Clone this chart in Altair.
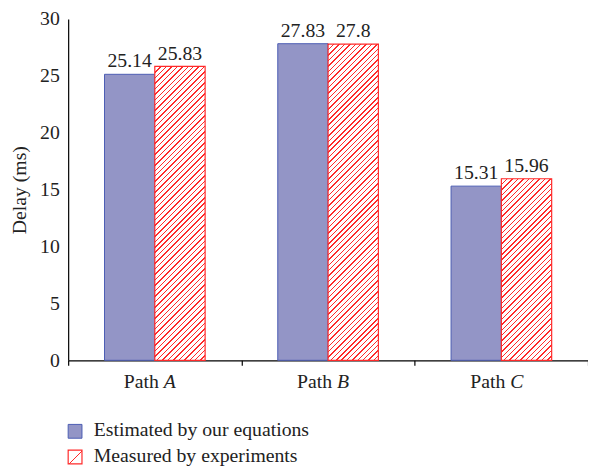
import altair as alt
import pandas as pd

# ---- data ----
paths = ["A", "B", "C"]
series = ["Estimated by our equations", "Measured by experiments"]
estimated = [25.14, 27.83, 15.31]
measured = [25.83, 27.8, 15.96]
est_labels = ["25.14", "27.83", "15.31"]
mea_labels = ["25.83", "27.8", "15.96"]
y_ticks = [0, 5, 10, 15, 20, 25, 30]

# ---- layout / style ----
W, H = 527, 346
FONT = "Liberation Serif"
FS = 20
BLUE_FILL = "#9395c6"
BLUE_EDGE = "#4b5cb3"
RED = "#ff2a2a"
BAR_W = 51.0
STEP = W / 3.0
PAD_OUT = (STEP / BAR_W - 2) / 2

rows = []
for p, e, m, el, ml in zip(paths, estimated, measured, est_labels, mea_labels):
    rows.append({"path": p, "series": series[0], "value": e, "label": el})
    rows.append({"path": p, "series": series[1], "value": m, "label": ml})
df = pd.DataFrame(rows)


def hatch(w, h, period=5.5, frac=0.27):
    n = max(1, int(round((w + h) / period)))
    k = (w + h) / (w * w + h * h)
    stops = []
    for i in range(n):
        o0 = i / n
        o1 = (i + frac) / n
        o2 = (i + 1) / n
        stops += [
            alt.GradientStop(color=RED, offset=round(o0, 5)),
            alt.GradientStop(color=RED, offset=round(o1, 5)),
            alt.GradientStop(color="white", offset=round(o1, 5)),
            alt.GradientStop(color="white", offset=round(o2, 5)),
        ]
    return alt.LinearGradient(
        gradient="linear", stops=stops, x1=0, y1=0,
        x2=round(k * w, 6), y2=round(k * h, 6),
    )


x_enc = alt.X(
    "path:N",
    scale=alt.Scale(domain=paths, paddingInner=0, paddingOuter=0),
    axis=alt.Axis(
        labels=False, ticks=True, tickBand="extent", tickSize=5,
        tickColor="black", tickWidth=1.2, domainColor="black",
        domainWidth=1.2, title=None, grid=False,
    ),
)
xo_enc = alt.XOffset(
    "series:N", scale=alt.Scale(domain=series, paddingInner=0, paddingOuter=PAD_OUT)
)
y_enc = alt.Y(
    "value:Q",
    scale=alt.Scale(domain=[0, 30], nice=False),
    axis=alt.Axis(
        values=y_ticks, ticks=False, grid=False, domainColor="black",
        domainWidth=1.2, labelPadding=9, title="Delay (ms)",
        titleFontWeight="normal", titlePadding=10,
    ),
)

base = alt.Chart(df)

blue_bars = base.transform_filter(alt.datum.series == series[0]).mark_bar(
    fill=BLUE_FILL, stroke=BLUE_EDGE, strokeWidth=1
).encode(x=x_enc, xOffset=xo_enc, y=y_enc)

red_layers = []
for p, m in zip(paths, measured):
    h = m * H / 30.0
    red_layers.append(
        base.transform_filter(
            (alt.datum.series == series[1]) & (alt.datum.path == p)
        ).mark_bar(fill=hatch(BAR_W, h), stroke=RED, strokeWidth=1.2)
        .encode(x=x_enc, xOffset=xo_enc, y=y_enc)
    )

bar_text = base.mark_text(
    font=FONT, fontSize=FS, baseline="alphabetic", dy=-7, color="#222"
).encode(x=x_enc, xOffset=xo_enc, y=y_enc, text="label:N")

# x-axis category labels: "Path" upright, letter italic
cat_df = pd.DataFrame({"path": paths})
cat_word = alt.Chart(cat_df).mark_text(
    font=FONT, fontSize=FS, align="right", baseline="middle", dx=4, color="#222"
).encode(x=x_enc, y=alt.value(H + 22), text=alt.value("Path"))
cat_letter = alt.Chart(cat_df).mark_text(
    font=FONT, fontSize=FS, fontStyle="italic", align="left", baseline="middle",
    dx=9, color="#222"
).encode(x=x_enc, y=alt.value(H + 22), text="path:N")

# custom legend
leg_df0 = pd.DataFrame({"name": [series[0]]})
leg_df1 = pd.DataFrame({"name": [series[1]]})
leg_sym0 = alt.Chart(leg_df0).mark_square(
    size=196, fill=BLUE_FILL, stroke=BLUE_EDGE, strokeWidth=1, opacity=1
).encode(x=alt.value(7), y=alt.value(418))
leg_sym1 = alt.Chart(leg_df1).mark_square(
    size=196, fill=hatch(14, 14, period=12, frac=0.1), stroke=RED,
    strokeWidth=1.2, opacity=1
).encode(x=alt.value(7), y=alt.value(444))
leg_txt0 = alt.Chart(leg_df0).mark_text(
    font=FONT, fontSize=FS, align="left", baseline="middle", color="#222"
).encode(x=alt.value(26), y=alt.value(417), text="name:N")
leg_txt1 = alt.Chart(leg_df1).mark_text(
    font=FONT, fontSize=FS, align="left", baseline="middle", color="#222"
).encode(x=alt.value(26), y=alt.value(443), text="name:N")

chart = alt.layer(
    blue_bars, *red_layers, bar_text, cat_word, cat_letter,
    leg_sym0, leg_sym1, leg_txt0, leg_txt1,
).properties(
    width=W, height=H,
    autosize=alt.AutoSizeParams(type="none"),
    padding={"left": 61, "top": 8, "right": 0, "bottom": 105},
).configure_view(stroke=None).configure_axis(
    labelFont=FONT, labelFontSize=FS, labelColor="#222",
    titleFont=FONT, titleFontSize=FS, titleColor="#222",
)

chart.save("out.html", embed_options={"renderer": "svg", "actions": False})
